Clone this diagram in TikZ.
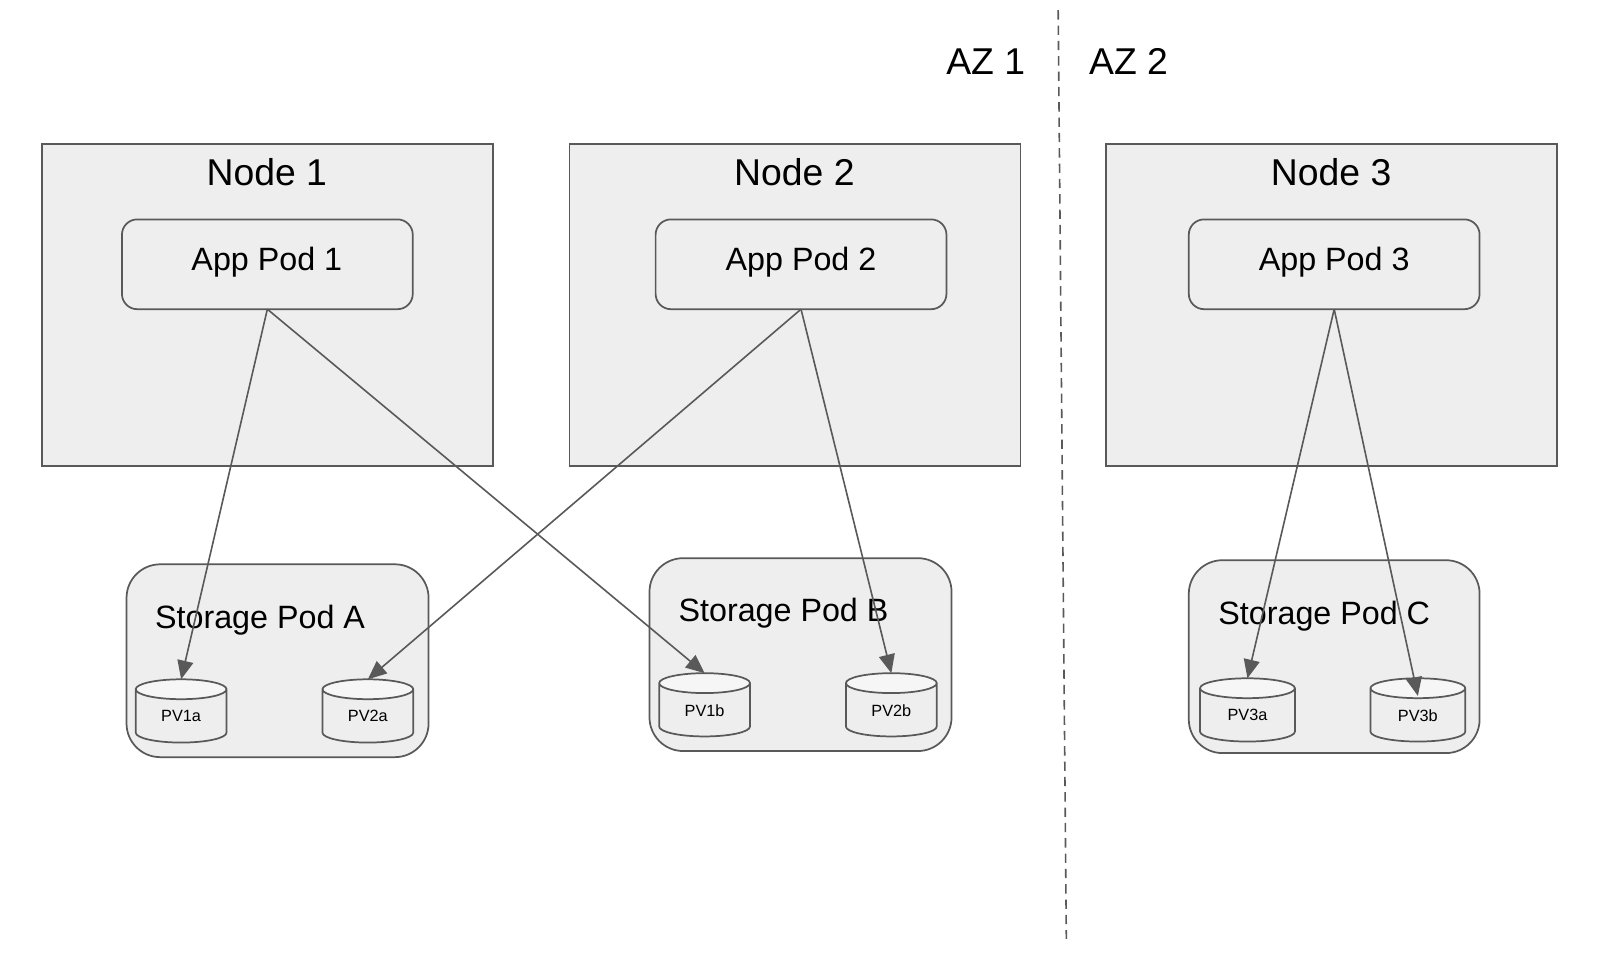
\documentclass[tikz,border=0pt]{standalone}
\usepackage{fontspec}
\setmainfont{Liberation Sans}
\usetikzlibrary{arrows.meta,shapes.geometric}
\def\U{0.7653pt}
\definecolor{ln}{HTML}{595959}
\definecolor{fl}{HTML}{EEEEEE}
\definecolor{ft}{HTML}{F6F6F6}
\tikzset{
  x=\U,y=-\U,
  every node/.style={inner sep=0pt,outer sep=0pt},
  boxbase/.style={draw=ln,fill=fl,line width=1.3pt,anchor=north west},
  hostbox/.style={boxbase,minimum width=442*\U,minimum height=316*\U},
  appbox/.style={boxbase,rounded corners=15*\U,minimum width=285*\U,minimum height=88*\U},
  storebox/.style={boxbase,rounded corners=33*\U,minimum width=296*\U,minimum height=189*\U},
  disk/.style={cylinder,shape border rotate=90,shape aspect=0.5,draw=ln,line width=1.3pt,
    cylinder uses custom fill,cylinder body fill=fl,cylinder end fill=ft,
    minimum height=62*\U,font=\fontsize{12.2pt}{14pt}\selectfont},
  disksm/.style={disk,minimum width=89*\U},
  disklg/.style={disk,minimum width=93*\U},
  bigtxt/.style={font=\fontsize{28pt}{32pt}\selectfont},
  midtxt/.style={font=\fontsize{24.2pt}{28pt}\selectfont},
  conn/.style={draw=ln,line width=1.2pt,-{Triangle[length=14pt,width=12pt]}},
  divider/.style={draw=ln,line width=1.2pt,dashed,dash pattern=on 7pt off 4.5pt},
}
\begin{document}
\begin{tikzpicture}
\useasboundingbox (0,0) rectangle (1568,942.7);
\fill[white] (0,0) rectangle (1568,942.7);
\coordinate (dtop) at (1037,10);
\coordinate (dbot) at (1045,920);
\draw[divider] (dtop) -- (dbot);
\node[bigtxt] (az1) at (966,60) {AZ 1};
\node[bigtxt] (az2) at (1106,60) {AZ 2};

\node[hostbox] (n1) at (41,141) {};
\node[hostbox] (n2) at (558,141) {};
\node[hostbox] (n3) at (1084,141) {};
\node[bigtxt] (n1t) at (261.5,169) {Node 1};
\node[bigtxt] (n2t) at (778.5,169) {Node 2};
\node[bigtxt] (n3t) at (1304.5,169) {Node 3};

\node[appbox] (a1) at (119.5,215) {};
\node[appbox] (a2) at (642.5,215) {};
\node[appbox] (a3) at (1165,215) {};
\node[midtxt] (a1t) at (261.5,257) {App Pod 1};
\node[midtxt] (a2t) at (785,257) {App Pod 2};
\node[midtxt] (a3t) at (1307.5,257) {App Pod 3};

\node[storebox] (sa) at (124,553) {};
\node[storebox] (sb) at (636.5,547) {};
\node[storebox,minimum width=285*\U] (sc) at (1165,549) {};
\node[midtxt,anchor=base west] (sat) at (152,616) {Storage Pod A};
\node[midtxt,anchor=base west] (sbt) at (665,609) {Storage Pod B};
\node[midtxt,anchor=base west] (sct) at (1194,612) {Storage Pod C};

\node[disksm] (p1a) at (177.5,702) {PV1a};
\node[disksm] (p2a) at (360.5,702) {PV2a};
\node[disksm] (p1b) at (690.5,696) {PV1b};
\node[disksm] (p2b) at (873.5,696) {PV2b};
\node[disklg] (p3a) at (1222.5,701) {PV3a};
\node[disklg] (p3b) at (1389.5,701) {PV3b};
\coordinate (p3btip) at (1389.5,682);

\draw[conn] (a1.south) -- (p1a.north);
\draw[conn] (a1.south) -- (p1b.north);
\draw[conn] (a2.south) -- (p2a.north);
\draw[conn] (a2.south) -- (p2b.north);
\draw[conn] (a3.south) -- (p3a.north);
\draw[conn] (a3.south) -- (p3btip);
\end{tikzpicture}
\end{document}
